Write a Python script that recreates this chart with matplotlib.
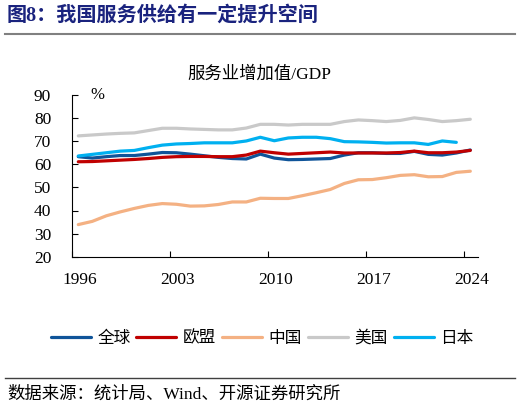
import numpy as np
import matplotlib
matplotlib.use('Agg')
from matplotlib import pyplot as plt
from matplotlib.lines import Line2D

plt.rcParams['font.family'] = ['Liberation Serif', 'Noto Sans CJK SC', 'DejaVu Sans']

# 数据（服务业增加值/GDP, %）
years = list(range(1996, 2025))
world = [63.3, 62.7, 63.3, 63.8, 63.8, 64.4, 65.1, 65.0, 64.4, 63.7,
         63.0, 62.5, 62.3, 64.4, 62.7, 62.0, 62.1, 62.3, 62.5, 64.0,
         65.0, 65.0, 64.7, 64.7, 65.6, 64.3, 64.0, 64.9, 66.2]
eu = [61.1, 61.2, 61.5, 61.8, 62.1, 62.5, 63.0, 63.3, 63.4, 63.4,
      63.3, 63.3, 64.0, 65.7, 65.0, 64.4, 64.7, 65.0, 65.3, 64.9,
      64.9, 64.9, 64.9, 65.1, 65.7, 65.0, 65.0, 65.3, 66.0]
china = [33.9, 35.3, 37.7, 39.4, 40.9, 42.2, 43.0, 42.7, 41.9, 42.0,
         42.6, 43.7, 43.7, 45.3, 45.2, 45.2, 46.4, 47.7, 49.1, 51.7,
         53.3, 53.4, 54.2, 55.2, 55.5, 54.6, 54.7, 56.5, 57.0]
usa = [72.3, 72.7, 73.1, 73.4, 73.6, 74.6, 75.6, 75.6, 75.3, 75.1,
       74.9, 74.9, 75.7, 77.3, 77.3, 77.0, 77.3, 77.3, 77.3, 78.5,
       79.2, 78.9, 78.5, 79.0, 80.1, 79.4, 78.5, 78.9, 79.5]
japan = [63.6, 64.3, 65.0, 65.7, 66.0, 67.2, 68.3, 68.8, 69.0, 69.3,
         69.3, 69.3, 70.1, 71.7, 70.2, 71.4, 71.7, 71.7, 71.1, 69.8,
         69.7, 69.5, 69.2, 69.3, 69.3, 68.6, 70.1, 69.5]
labels = ['全球', '欧盟', '中国', '美国', '日本']
colors = ['#0F5499', '#C00000', '#F4B183', '#C9C9C9', '#00B0F0']
tick_years = [1996, 2003, 2010, 2017, 2024]

fig = plt.figure(figsize=(5.21, 4.08), dpi=100)
W, H = 521, 408

# 标题
fig.text(7 / W, 1 - 16 / H, '图8：我国服务供给有一定提升空间', fontsize=14.5,
         fontweight='bold', color='#1A237E', va='center', ha='left',
         family=['Liberation Serif', 'Noto Sans CJK SC'])
fig.add_artist(Line2D([5 / W, 515 / W], [1 - 33.5 / H, 1 - 33.5 / H],
                      color='#808080', lw=1.5))

ax = fig.add_axes([72 / W, 1 - 256.7 / H, (478 - 72) / W, (256.7 - 95) / H])

series = [world, eu, china, usa, japan]
for vals, lab, col in zip(series, labels, colors):
    x = np.array(years[:len(vals)]) + 0.45
    ax.plot(x, vals, color=col, lw=2.3, label=lab, solid_capstyle='round')

ax.set_xlim(1996, 2025)
ax.set_ylim(20, 90)
ax.set_yticks(range(20, 91, 10))
ax.set_xticks(tick_years)
ax.set_xticklabels([])
ax.set_xticks([y + 0.55 for y in tick_years], minor=True)
ax.set_xticklabels([str(y) for y in tick_years], minor=True)
ax.tick_params(axis='x', which='minor', length=0, pad=11, labelsize=12.5)
ax.tick_params(axis='x', which='major', direction='in', length=4, width=0.8)
ax.tick_params(axis='y', direction='in', length=4, width=0.8, pad=15, labelsize=12.5)
for s in ['top', 'right']:
    ax.spines[s].set_visible(False)
for s in ['left', 'bottom']:
    ax.spines[s].set_linewidth(0.8)

fig.text(259 / W, 1 - 74.5 / H, '服务业增加值/GDP', fontsize=12.5, ha='center', va='center')
fig.text(97 / W, 1 - 95 / H, '%', fontsize=12, ha='center', va='center')

fig.legend(loc='center', bbox_to_anchor=(262 / W, 1 - 338 / H), ncol=5, frameon=False,
           handlelength=2.4, handletextpad=0.4, columnspacing=0.35,
           prop={'family': ['Noto Sans CJK SC'], 'size': 12})

fig.add_artist(Line2D([5 / W, 515 / W], [1 - 378 / H, 1 - 378 / H],
                      color='#404040', lw=1.0))
fig.text(7 / W, 1 - 395 / H, '数据来源：统计局、Wind、开源证券研究所', fontsize=12.5,
         ha='left', va='center')

fig.savefig('out.png', dpi=100)
